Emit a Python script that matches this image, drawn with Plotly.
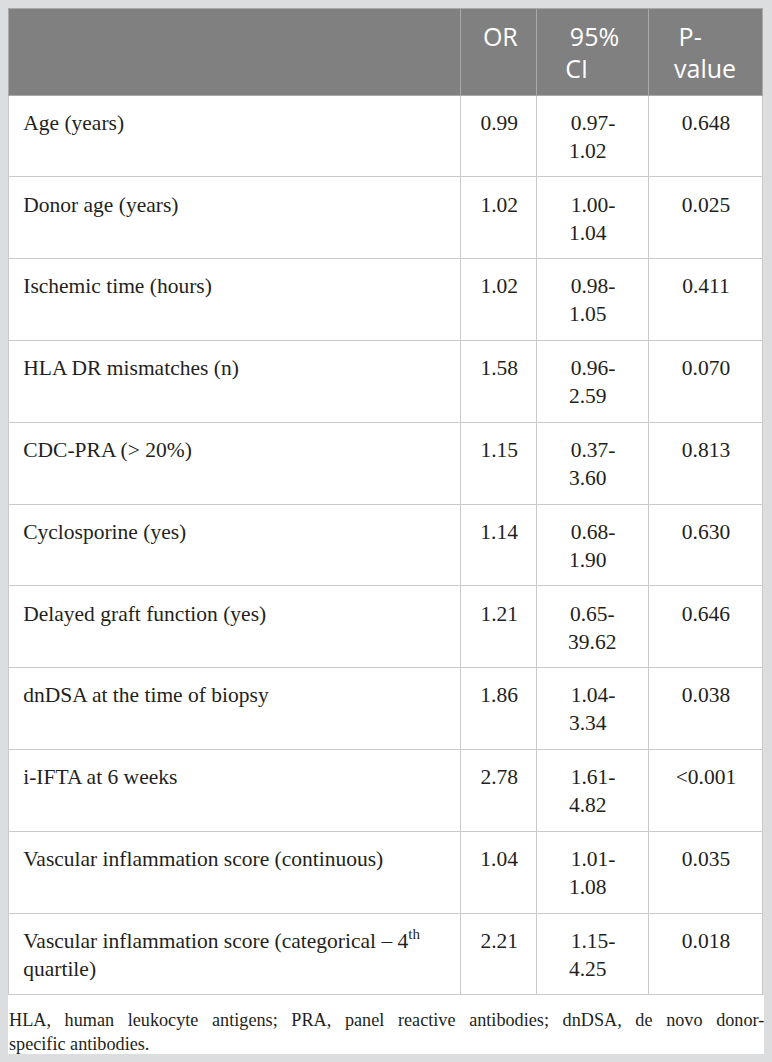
import plotly.graph_objects as go

# 表格数据
header = ["", "OR", "95%<br>CI", "P-<br>value"]

variables = [
    "Age (years)",
    "Donor age (years)",
    "Ischemic time (hours)",
    "HLA DR mismatches (n)",
    "CDC-PRA (&gt; 20%)",
    "Cyclosporine (yes)",
    "Delayed graft function (yes)",
    "dnDSA at the time of biopsy",
    "i-IFTA at 6 weeks",
    "Vascular inflammation score (continuous)",
    "Vascular inflammation score (categorical – 4<sup>th</sup><br>quartile)",
]
odds_ratio = ["0.99", "1.02", "1.02", "1.58", "1.15", "1.14", "1.21", "1.86", "2.78", "1.04", "2.21"]
ci_low = ["0.97", "1.00", "0.98", "0.96", "0.37", "0.68", "0.65", "1.04", "1.61", "1.01", "1.15"]
ci_high = ["1.02", "1.04", "1.05", "2.59", "3.60", "1.90", "39.62", "3.34", "4.82", "1.08", "4.25"]
p_values = ["0.648", "0.025", "0.411", "0.070", "0.813", "0.630", "0.646", "0.038", "&lt;0.001", "0.035", "0.018"]

footnote_lines = [
    "HLA, human leukocyte antigens; PRA, panel reactive antibodies; dnDSA, de novo donor-",
    "specific antibodies.",
]

W, H = 772, 1062
serif = "Liberation Serif"

# 用嵌套的上标空格把第一行文字往下推，近似原图单元格的上边距
lead = "<sup><sup><sup>&nbsp;</sup></sup></sup>"
head_lead = "<sup>&nbsp;</sup>"


def centred(s, pre):
    first, *rest = s.split("<br>")
    return "<br>".join([pre + first] + rest)


col_var = [lead + "&nbsp;" + v.replace("<br>", "<br>" + lead + "&nbsp;") for v in variables]
col_or = [centred(v, lead) for v in odds_ratio]
col_ci = [centred(f"{lo}-<br>{hi}", lead) for lo, hi in zip(ci_low, ci_high)]
col_p = [centred(v, lead) for v in p_values]
head = [centred(h, head_lead) for h in header]

fig = go.Figure()
fig.add_trace(go.Table(
    domain=dict(x=[8 / W, 763 / W], y=[1 - 1000 / H, 1 - 8 / H]),
    columnwidth=[453, 76, 112, 114],
    header=dict(
        values=head,
        fill_color="#808080",
        line=dict(color="#a8a8a8", width=1),
        font=dict(family="Open Sans", size=25, color="white"),
        align="center",
        height=87,
    ),
    cells=dict(
        values=[col_var, col_or, col_ci, col_p],
        fill_color="white",
        line=dict(color="#c9c9c9", width=1),
        font=dict(family=serif, size=21.5, color="#231f20"),
        align=["left", "center", "center", "center"],
        height=81.8,
    ),
))

# 脚注区域（两端对齐：词间用多个空格）
gap = "&nbsp;" * 3
footnote = "<br>".join([footnote_lines[0].replace(" ", gap), footnote_lines[1]])
fig.add_shape(type="rect", xref="paper", yref="paper",
              x0=8 / W, x1=764 / W, y0=1 - 1054 / H, y1=1 - 995 / H,
              fillcolor="white", line=dict(width=0), layer="below")
fig.add_annotation(text=footnote, xref="paper", yref="paper",
                   x=7 / W, y=1 - 1008 / H, xanchor="left", yanchor="top",
                   align="left", showarrow=False,
                   font=dict(family=serif, size=18.2, color="#231f20"))

fig.update_layout(
    width=W, height=H,
    margin=dict(l=0, r=0, t=0, b=0),
    paper_bgcolor="#dcdddf",
    plot_bgcolor="#dcdddf",
)

fig.write_html("out.html", config={"displayModeBar": False},
               post_script="document.body.style.margin='0';document.body.style.overflow='hidden';")
